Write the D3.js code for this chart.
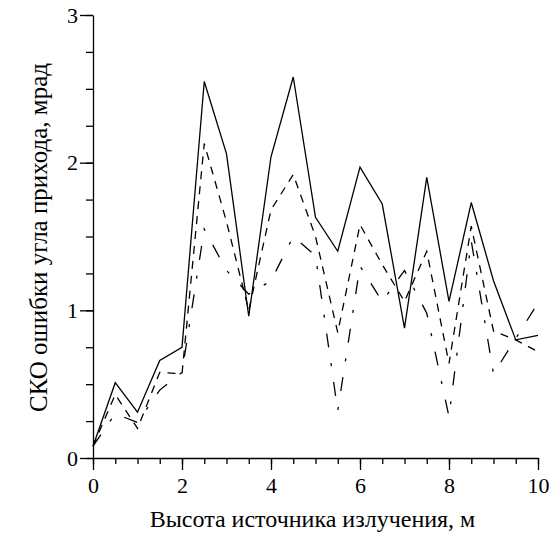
<!DOCTYPE html>
<html lang="ru">
<head>
  <meta charset="UTF-8">
  <title>СКО ошибки угла прихода</title>
  <script src="https://d3js.org/d3.v7.min.js"></script>
  <style>
    body { margin: 0; padding: 0; background: #fff; }
    svg text { font-family: "Liberation Serif", "Times New Roman", serif; fill: #000; }
  </style>
</head>
<body>
  <div id="chart"></div>
  <script>
    // heights of the source, m
    const heights = [0, 0.5, 1, 1.5, 2, 2.5, 3, 3.5, 4, 4.5, 5, 5.5, 6, 6.5, 7, 7.5, 8, 8.5, 9, 9.5, 10];
    // RMS error, mrad
    const solidSeries   = [0.08, 0.51, 0.31, 0.66, 0.75, 2.55, 2.06, 0.96, 2.04, 2.58, 1.63, 1.40, 1.97, 1.72, 0.88, 1.90, 1.06, 1.73, 1.20, 0.80, 0.83];
    const dashedSeries  = [0.08, 0.43, 0.20, 0.58, 0.57, 2.13, 1.60, 1.00, 1.68, 1.92, 1.50, 0.85, 1.58, 1.31, 1.06, 1.40, 0.64, 1.57, 0.86, 0.80, 0.72];
    const dashDotSeries = [0.08, 0.30, 0.24, 0.46, 0.58, 1.55, 1.27, 1.11, 1.20, 1.50, 1.37, 0.32, 1.30, 1.06, 1.27, 0.98, 0.28, 1.47, 0.57, 0.81, 1.05];

    const xMajor = [0, 2, 4, 6, 8, 10];
    const yMajor = [0, 1, 2, 3];
    const xTitle = "Высота источника излучения, м";
    const yTitle = "СКО ошибки угла прихода, мрад";

    const width = 553, height = 542;
    const margin = { left: 93, right: 538, top: 15, bottom: 458 };

    const svg = d3.select("#chart").append("svg")
      .attr("width", width)
      .attr("height", height);

    const x = d3.scaleLinear().domain([0, 10]).range([margin.left, margin.right]);
    const y = d3.scaleLinear().domain([0, 3]).range([margin.bottom, margin.top]);

    // minor ticks first, then major ones with labels
    svg.append("g")
      .attr("transform", `translate(0,${margin.bottom})`)
      .call(d3.axisBottom(x).tickValues(d3.range(0, 10.01, 0.5)).tickSize(6).tickFormat(""))
      .call(g => g.select(".domain").remove());
    svg.append("g")
      .attr("transform", `translate(${margin.left},0)`)
      .call(d3.axisLeft(y).tickValues(d3.range(0, 3.01, 0.25)).tickSize(7).tickFormat(""))
      .call(g => g.select(".domain").remove());

    const xAxis = svg.append("g")
      .attr("transform", `translate(0,${margin.bottom})`)
      .call(d3.axisBottom(x).tickValues(xMajor).tickSize(12).tickPadding(7).tickSizeOuter(0).tickFormat(d3.format("d")));
    const yAxis = svg.append("g")
      .attr("transform", `translate(${margin.left},0)`)
      .call(d3.axisLeft(y).tickValues(yMajor).tickSize(13).tickPadding(2).tickSizeOuter(0).tickFormat(d3.format("d")));

    svg.selectAll(".tick line, .domain")
      .attr("stroke", "#000")
      .attr("stroke-width", 1.3);
    [xAxis, yAxis].forEach(a => a.selectAll("text")
      .style("font-family", "'Liberation Serif', serif")
      .style("font-size", "22px")
      .attr("fill", "#000"));

    const line = d3.line()
      .x((d, i) => x(heights[i]))
      .y(d => y(d));

    const series = [
      { values: dashDotSeries, dash: "14,16,3,16" },
      { values: dashedSeries, dash: "8,7" },
      { values: solidSeries, dash: null }
    ];

    svg.selectAll("path.series")
      .data(series)
      .join("path")
      .attr("class", "series")
      .attr("d", d => line(d.values))
      .attr("fill", "none")
      .attr("stroke", "#000")
      .attr("stroke-width", 1.3)
      .attr("stroke-dasharray", d => d.dash);

    svg.append("text")
      .attr("x", (margin.left + margin.right) / 2 - 3)
      .attr("y", 527)
      .attr("text-anchor", "middle")
      .style("font-size", "24px")
      .text(xTitle);

    svg.append("text")
      .attr("transform", `translate(47,${(margin.top + margin.bottom) / 2 + 1}) rotate(-90)`)
      .attr("text-anchor", "middle")
      .style("font-size", "25px")
      .text(yTitle);
  </script>
</body>
</html>
